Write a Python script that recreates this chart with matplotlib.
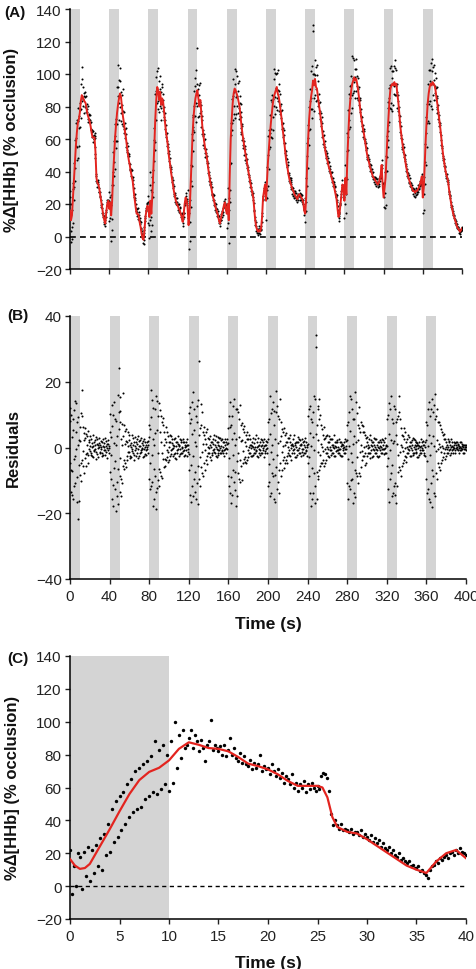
import numpy as np
import matplotlib
matplotlib.use("Agg")
import matplotlib.pyplot as plt

plt.rcParams['font.family'] = ['Liberation Sans', 'DejaVu Sans']

# ---- panel A/B: model fit sampled every second, 0..400 s ----
fit_a = [
    16, 10, 13, 24, 34, 45, 56, 64, 70, 72, 76, 83, 87, 86, 84, 83, 82, 78, 75, 73,
    71, 68, 64, 61, 61, 61, 52, 36, 33, 32, 29, 25, 21, 17, 13, 10, 8, 15, 20, 22,
    17, 21, 13, 22, 38, 50, 61, 69, 76, 81, 85, 88, 86, 80, 74, 70, 65, 61, 56, 51,
    47, 44, 40, 37, 34, 28, 23, 18, 14, 14, 13, 9, 6, 2, -1, -2, 4, 12, 16, 19,
    18, 12, 22, 14, 25, 40, 55, 72, 84, 92, 90, 84, 89, 81, 85, 83, 77, 70, 64, 60,
    55, 49, 45, 40, 36, 32, 28, 25, 22, 20, 19, 17, 16, 14, 12, 9, 14, 20, 24, 22,
    18, 7, 14, 30, 46, 62, 73, 80, 85, 88, 90, 85, 80, 84, 76, 68, 63, 58, 54, 51,
    47, 42, 38, 34, 31, 27, 24, 22, 19, 17, 15, 13, 10, 8, 11, 14, 16, 19, 21, 17,
    14, 20, 10, 38, 60, 72, 82, 88, 91, 90, 88, 86, 83, 80, 74, 68, 63, 59, 55, 51,
    48, 44, 40, 37, 33, 30, 27, 24, 17, 10, 6, 4, 3, 4, 3, 5, 12, 24, 28, 32,
    22, 34, 46, 55, 63, 70, 76, 82, 86, 88, 90, 92, 88, 86, 82, 77, 72, 66, 61, 56,
    50, 45, 42, 38, 35, 33, 31, 29, 28, 26, 25, 24, 23, 25, 26, 25, 24, 23, 21, 16,
    14, 24, 45, 60, 72, 80, 86, 90, 96, 93, 97, 92, 91, 86, 81, 77, 72, 67, 62, 59,
    55, 51, 48, 46, 43, 41, 39, 36, 34, 32, 29, 26, 23, 17, 12, 14, 20, 26, 32, 30,
    22, 36, 26, 48, 63, 76, 84, 90, 94, 96, 98, 96, 97, 94, 90, 85, 79, 74, 70, 66,
    63, 59, 55, 51, 48, 46, 43, 41, 39, 37, 36, 35, 34, 33, 32, 33, 35, 38, 44, 32,
    24, 30, 36, 50, 63, 74, 84, 91, 93, 94, 93, 95, 93, 94, 88, 83, 76, 68, 63, 58,
    54, 51, 47, 43, 40, 37, 35, 33, 31, 30, 28, 28, 27, 28, 28, 29, 30, 32, 34, 37,
    24, 30, 45, 60, 72, 82, 88, 92, 94, 93, 95, 94, 93, 90, 85, 81, 76, 71, 66, 60,
    54, 49, 45, 41, 38, 36, 33, 28, 24, 20, 17, 14, 12, 10, 8, 6, 5, 4, 3, 4,
    5,
]

# residuals, three samples per second (one row of 40 = one cycle)
resid_1 = [
    8.2, -13.5, 3.1, -15.8, 11.4, -2.7, 13.6, -9.1, 0.8, -16.2, 6.3, -4.8, 9.7, -1.2, 4.5, 2.9, -5.6, 0.7, -2.4, 1.8, -1.1, 2.6, 0.3, -2.9, 1.7, -0.6, 3.2, -1.9, 0.9, 0.2, -1.4, 2.1, -2.6, 0.5, 1.3, -0.9, 0.4, -3.1, 2.2, -0.3,
    4.7, -9.6, 12.8, -17.9, 1.4, -12.6, 8.2, -14.7, 15.9, 24.3, 11.2, -8.6, 2.7, -10.8, 16.6, -3.7, 4.9, -5.8, 1.6, -1.3, 3.7, -2.6, 1.4, -0.4, 2.9, -3.7, 0.5, 1.8, -1.6, 3.6, -2.7, 0.6, -0.9, 1.5, -2.8, 2.6, -1.9, 0.8, 0.1, -1.7,
    6.8, -12.7, 17.6, -10.4, 2.5, -15.8, 11.7, -13.6, 5.4, -9.8, 13.5, -7.6, 9.6, -1.7, 6.7, -5.8, 2.7, -3.9, 4.6, -1.4, 1.8, -2.7, 3.6, -0.6, 0.8, -1.9, 2.8, -3.6, 1.7, -0.4, 0.9, 2.7, -1.8, 0.1, 1.6, -2.6, 0.7, -0.8, 2.7, -1.5,
    10.6, -14.6, 8.7, -11.7, 16.8, -9.6, 1.7, -15.7, 12.6, -5.7, 26.2, -11.6, 6.8, -7.7, 4.8, 3.7, -6.7, 4.8, -2.7, 2.8, -1.7, 0.8, -3.7, 1.8, 2.7, -0.6, -1.8, 3.6, -2.8, 0.7, 1.7, -0.8, 2.8, -1.6, -0.7, 1.7, -2.7, 0.8, 1.8, -0.6,
    5.8, -11.6, 13.7, -16.8, 9.6, -6.7, 14.7, -12.8, 2.6, -14.7, 10.8, -9.7, 12.8, -5.7, 7.6, -4.8, 4.7, -2.8, 3.7, -3.8, 2.7, -1.8, 0.7, -2.6, 1.8, 0.2, -1.7, 2.7, -0.8, 1.7, -2.8, 0.8, 1.7, -1.6, 0.7, -0.8, 2.6, -1.7, 0.9, 1.8,
    7.7, -10.6, 15.7, -13.7, 11.6, -8.7, 6.8, -16.7, 10.7, -12.7, 9.7, -6.8, 14.7, -8.8, 5.7, -3.8, 5.8, -4.7, 1.7, -2.7, 2.8, -0.7, 1.8, -3.7, 0.8, 2.7, -1.7, 0.9, -2.8, 1.7, -0.8, 2.7, -1.8, 0.7, -0.6, 1.8, -1.7, 2.8, -0.7, 0.8,
    9.7, -8.6, 12.7, -17.7, 7.8, -13.7, 15.6, -11.7, 34.2, -15.8, 11.7, -8.7, 8.6, -5.7, 6.7, -4.6, 3.8, -5.7, 2.8, -1.8, 3.7, -2.7, 1.6, -0.7, 2.7, -1.8, 0.8, -2.6, 1.7, 1.6, -0.8, -1.7, 2.7, -0.6, 1.8, -2.7, 0.7, 1.8, -1.7, 0.6,
    6.7, -15.7, 10.8, -12.7, 14.7, -9.7, 8.7, -13.7, 16.8, -7.8, 10.6, -10.7, 5.8, -8.7, 7.7, -3.8, 4.8, -2.7, 3.8, -4.7, 1.8, -1.7, 2.7, -1.8, 0.7, -2.8, 1.7, 0.8, -1.7, 2.7, -0.8, 1.8, -2.7, 0.6, 1.7, -1.8, 0.8, -0.6, 2.8, -1.7,
    8.8, -12.7, 13.6, -9.7, 15.8, -14.7, 7.6, -11.8, 11.7, -16.8, 8.7, -7.6, 10.8, -6.7, 5.8, -5.7, 3.6, -3.8, 4.7, -2.8, 2.7, -1.8, 0.6, -2.7, 1.8, -0.7, 2.8, -1.7, 0.8, -0.6, 1.7, -2.8, 0.7, 1.8, -1.6, 2.7, -0.8, 0.7, -1.8, 1.6,
    7.8, -13.7, 11.7, -15.8, 9.7, -10.8, 14.7, -8.7, 12.8, -14.7, 9.6, -9.7, 7.7, -5.8, 6.7, -4.8, 4.7, -2.8, 2.7, -3.6, 1.8, -1.7, 2.6, -0.8, 0.7, -1.8, 1.7, -0.6, 0.8, -1.7, 0.7, 1.6, -0.8, 0.6, -0.7, 1.7, -0.6, 0.8, -1.6, 0.7,
    0.8,
]
resid_2 = [
    -4.6, 9.8, -7.2, 5.4, -11.6, 14.2, -0.5, 7.9, -21.8, 2.3, -8.4, 10.6, -3.9, 6.1, -7.7, -3.3, 4.2, -1.6, 5.1, -0.4, 3.5, -1.8, -2.7, 0.6, -1.2, 2.4, -3.6, 1.1, -0.2, 2.8, -1.7, 0.1, 1.6, -2.3, -0.7, 2.9, -1.5, 1.2, -0.8, 0.6,
    -7.4, 3.2, -15.7, 9.8, -6.1, 8.7, -19.4, 3.5, -6.6, 10.8, -13.6, 7.7, -9.7, 0.9, -5.7, 6.8, -4.6, 2.1, -3.8, 4.8, -1.5, 0.8, -2.9, 3.7, -1.8, 1.6, -0.7, -2.6, 2.7, -0.5, 1.9, -1.6, 2.8, -0.6, 0.9, -2.5, 1.7, -0.8, 1.6, 0.7,
    -9.6, 5.7, -11.8, 14.6, -17.7, 0.8, -8.7, 15.7, -12.4, 9.6, -6.6, 11.5, -8.8, 7.8, -3.6, 4.7, -5.6, 1.7, -2.8, 3.6, -3.7, 1.6, -0.8, 2.6, -2.7, 0.6, -1.6, 1.8, -0.7, 3.6, -2.6, -0.6, 1.6, -1.7, 2.6, -0.7, 0.2, 1.7, -2.6, 0.8,
    -6.7, 7.6, -16.7, 13.8, -2.6, 11.7, -13.6, 9.7, -10.8, 14.6, -9.7, 5.8, -5.8, 10.7, -8.6, -4.7, 2.7, -3.8, 5.7, -1.8, 2.6, -2.8, 1.7, -1.6, -0.8, 3.7, 0.7, -2.7, 1.6, -1.8, -0.7, 2.8, -1.7, 0.6, 2.7, -1.8, 1.6, -0.6, -1.7, 2.6,
    -8.7, 9.7, -13.7, 6.8, -14.6, 12.7, -10.6, 0.8, -17.8, 11.7, -7.7, 8.6, -3.7, 6.7, -9.8, 5.7, -3.6, 1.8, -4.7, 2.6, -0.8, 3.7, -1.8, 0.8, -2.7, 2.8, -0.6, -1.7, 3.8, -2.7, 0.6, -1.8, -0.7, 2.6, -1.6, 1.7, -2.8, 0.7, -0.6, -1.8,
    -11.7, 8.6, -14.7, 10.6, -7.8, 13.7, -15.6, 2.7, -5.8, 12.7, -10.6, 8.8, -4.7, 7.7, -6.8, 4.6, -2.8, 3.7, -3.7, 1.8, -1.7, 2.8, -2.7, 0.8, -1.8, -0.8, 3.7, -2.8, 1.6, -0.7, 1.8, -1.8, 0.7, -2.6, 2.7, -0.6, 0.8, -1.6, 1.7, -2.7,
    -4.8, 11.7, -13.8, 8.6, -15.7, 10.7, -7.7, 14.7, 30.6, 6.8, -9.7, 12.6, -6.7, 9.8, -4.7, 5.7, -3.8, 2.7, -4.8, 3.6, -1.8, 1.7, -2.8, 2.6, -0.7, 0.8, -1.6, 3.7, -2.7, 0.2, 1.7, -0.8, -1.8, 1.7, -2.6, 0.7, -0.8, -1.7, 2.7, -0.6,
    -10.7, 7.8, -11.7, 15.8, -9.8, 11.8, -16.8, 8.7, -6.7, 13.7, -8.7, 6.8, -7.7, 4.7, -5.8, 6.7, -2.6, 4.7, -1.7, 2.8, -2.7, 0.7, -1.8, 3.7, -0.7, 1.8, -2.7, -0.8, 2.7, -1.7, 0.7, -2.8, 1.7, -0.7, -1.8, 2.7, -0.6, 1.7, -1.8, 0.7,
    -5.7, 9.8, -16.7, 11.7, -7.8, 8.8, -13.7, 12.7, -10.7, 7.7, -11.8, 9.7, -5.8, 8.7, -8.7, 3.8, -4.7, 2.7, -2.6, 1.7, -1.8, 3.8, -0.8, 1.8, -2.6, 0.7, -1.7, 2.7, -0.6, 1.8, -1.7, 0.8, -2.8, 0.6, -0.7, -1.8, 1.7, -0.8, 0.7, -2.7,
    -9.7, 6.8, -12.7, 13.7, -16.7, 11.8, -6.7, 10.7, -13.8, 8.7, -7.8, 11.7, -4.8, 7.7, -6.8, 5.7, -3.7, 3.8, -1.8, 2.7, -2.7, 0.8, -1.7, 1.8, -0.6, 2.7, -0.8, -1.7, 1.6, -0.7, 1.8, -0.6, 0.7, -1.8, 1.7, -0.8, 0.6, -1.7, 0.8, -0.6,
    -0.7,
]
resid_3 = [
    12.1, -6.8, -14.3, 8.7, -3.5, -10.9, 4.6, -16.7, 9.3, -5.2, 1.9, -10.3, 17.4, -5.6, 2.2, 5.8, -2.1, 3.4, -4.7, 2.3, 0.4, -2.2, 1.5, 3.8, -0.9, 0.8, -1.3, 2.5, -2.8, 1.4, 0.7, -0.6, -1.8, 2.7, 0.2, -2.4, 1.9, -0.1, 1.1, -1.6,
    10.2, -2.4, 6.6, -11.3, 13.8, -4.2, 0.7, -10.5, -17.2, 5.6, -3.1, 15.4, -14.8, 7.3, 3.4, -6.5, 1.2, 5.7, -2.6, 0.4, 2.4, -3.3, 0.2, -1.1, 0.9, -2.2, 3.1, -0.3, 1.2, -3.2, 0.5, 2.3, -1.4, -0.2, 2.1, -0.4, 0.3, -2.2, -0.6, 1.9,
    3.2, -4.7, 9.4, -2.3, 11.9, -6.4, 4.3, -18.6, 14.2, -1.6, -11.7, 4.8, 1.6, -9.4, 8.9, 0.9, -3.4, 6.2, -0.8, -4.3, 0.3, 3.9, -2.1, 1.3, -0.2, 2.7, -3.1, 0.4, -1.8, 1.2, 0.6, -1.9, 2.4, -0.1, -1.2, 1.8, -2.3, 0.5, 0.9, -0.4,
    -2.1, 12.4, -5.3, 4.1, -14.9, 5.2, -7.4, 0.6, 7.8, -17.3, 3.9, -2.8, 13.1, -1.4, 1.2, 6.3, -0.9, 1.1, -4.9, 0.2, -0.3, 3.4, 0.1, -2.4, 1.1, -1.4, 2.2, 0.3, -0.5, 3.1, -2.2, 0.4, -0.2, 2.3, -1.1, 0.3, -0.9, 2.6, -0.3, 1.2,
    1.3, -3.2, 6.1, -9.1, 2.7, -2.4, 4.4, -7.6, 11.8, -4.1, -1.6, 3.3, -10.5, 1.9, 2.4, -1.2, 6.4, -4.4, 0.6, 4.7, -2.9, 0.3, 2.6, -0.1, 0.4, -2.3, 1.3, 0.1, -1.2, 0.2, 2.9, -0.4, -2.2, 0.5, 2.4, -0.3, 0.4, -1.1, 2.1, -0.2,
    2.6, -5.1, 4.2, -1.3, 0.9, -3.6, 11.2, -8.4, 17.1, -2.2, 1.3, -13.9, 2.1, 3.6, -1.4, 0.4, -6.1, 0.9, 4.3, -4.8, 0.3, -2.4, 3.9, -0.2, 1.2, 0.4, -0.6, 1.3, 0.3, -2.2, 3.1, -0.3, 2.2, 1.1, -1.3, -2.4, 1.9, 0.2, -1.2, 0.1,
    1.2, -2.9, 4.4, 0.6, -6.2, 3.3, -0.8, -16.9, 4.1, -7.6, 2.3, -1.4, 14.8, -2.2, 1.1, 0.3, -1.2, 6.3, -0.4, -3.9, 0.1, -0.4, 3.4, 0.2, -2.4, 2.6, 0.3, -0.2, 0.4, -1.1, 2.3, 0.2, -0.4, -2.3, 0.6, 1.2, -0.1, 0.3, -0.4, 1.9,
    2.3, -3.6, 0.4, 4.9, -1.8, -4.4, 1.2, 3.4, -15.1, 1.6, -2.9, 2.4, 12.2, -1.3, 0.8, -1.1, 6.4, 0.3, -5.2, 0.4, 3.3, -0.2, 0.1, -3.3, 2.2, 0.6, -0.4, 2.9, 0.2, -0.6, -2.6, 0.3, -0.3, 2.4, 0.2, -0.4, 2.3, -2.1, -0.2, 0.4,
    0.6, -3.3, 4.2, -0.9, 2.2, -5.4, 1.4, 2.1, -14.6, 3.7, 1.2, -2.3, 15.6, -1.4, 0.9, 0.3, -1.1, 5.9, -0.3, -4.4, 0.2, -0.4, 3.1, 0.4, -0.2, 2.3, -2.3, 0.3, 2.2, -1.4, 0.4, 1.3, -0.3, -2.4, 0.2, 0.4, -0.3, 2.1, -2.2, 0.3,
    2.2, -4.1, 0.6, 3.9, -2.4, 1.3, -18.1, 3.4, 0.5, 16.2, -1.2, 2.3, -0.4, 1.1, 0.3, -1.3, 0.4, -0.3, 4.1, -0.6, 0.2, -0.4, 0.3, 2.1, -2.2, 0.1, 0.4, 0.2, -0.3, 1.3, -0.2, 0.3, 1.1, -0.1, 0.2, -0.3, 1.1, 0.2, -0.4, 0.3,
    0.2,
]

# ---- panel C: first 40 s, fit and raw samples (every 0.2 s) ----
time_c_fit = [0, 0.5, 1, 1.5, 2, 3, 4, 5, 6, 7, 8, 9, 10, 11, 12, 13, 14, 15, 16, 17,
              18, 19, 20, 21, 22, 23, 24, 25, 25.5, 26, 26.5, 27, 28, 29, 30, 31, 32, 33,
              34, 35, 36, 37, 38, 39, 40]
fit_c = [16.5, 12.5, 10.5, 11, 13.5, 24, 34.5, 45.5, 56, 64.5, 69.5, 72, 76.5, 83.5,
         87.5, 86, 84, 83.5, 82, 78.5, 74.5, 73, 71, 68, 64, 61, 61, 61, 60, 54, 42, 36,
         33, 32, 28.5, 24.5, 20.5, 16.5, 12.5, 10, 8, 15, 20, 22, 17]
raw_c = [
    22, -5, 12, 0, 20, 18, -2, 21, 6, 24, 3, 22, 8, 25, 12, 29, 10, 32, 19, 38,
    21, 47, 27, 52, 30, 55, 34, 57, 38, 62, 42, 65, 45, 70, 47, 72, 48, 74, 53, 76,
    55, 79, 57, 88, 56, 83, 59, 86, 62, 80, 58, 88, 63, 100, 72, 92, 78, 95, 84, 86,
    90, 95, 84, 92, 88, 82, 89, 84, 76, 86, 88, 101, 83, 86, 84, 82, 85, 80, 86, 79,
    83, 90, 80, 84, 78, 76, 81, 75, 79, 74, 73, 77, 71, 75, 72, 74, 80, 70, 73, 71,
    72, 68, 74, 70, 67, 71, 66, 69, 63, 67, 65, 62, 68, 60, 63, 58, 62, 60, 64, 57,
    62, 59, 63, 60, 58, 61, 59, 67, 69, 68, 66, 58, 44, 37, 40, 37, 35, 38, 34, 35,
    34, 33, 35, 32, 33, 33, 31, 34, 30, 32, 30, 28, 31, 27, 29, 26, 28, 24, 26, 23,
    22, 24, 20, 22, 19, 18, 20, 16, 17, 15, 14, 15, 12, 13, 11, 11, 12, 9, 10, 8,
    7, 5, 10, 12, 13, 15, 14, 17, 16, 18, 19, 17, 20, 21, 19, 22, 20, 23, 21, 20,
    19,
]

band_starts = [0, 40, 80, 120, 160, 200, 240, 280, 320, 360]
band_len = 10

t_a = np.arange(len(fit_a))
fit_a = np.array(fit_a, dtype=float)
resid = [np.array(r, dtype=float) for r in (resid_1, resid_2, resid_3)]
t_all = np.concatenate([t_a] * 3)
res_all = np.concatenate(resid)
data_all = np.concatenate([fit_a + r for r in resid])
t_c = np.arange(len(raw_c)) * 0.2

grey = '#d4d4d4'
red = '#e3241f'
W, H = 477, 970
fig = plt.figure(figsize=(W / 100, H / 100), dpi=100)


def px_axes(x0, x1, ytop, ybot):
    return fig.add_axes([x0 / W, 1 - ybot / H, (x1 - x0) / W, (ybot - ytop) / H])


def style(ax):
    for s in ['top', 'right']:
        ax.spines[s].set_visible(False)
    for s in ['left', 'bottom']:
        ax.spines[s].set_linewidth(1.1)
    ax.tick_params(direction='out', length=3.5, width=1.0, labelsize=11,
                   colors='#222222', pad=2.5)


axA = px_axes(70, 462, 10, 270)
axB = px_axes(70, 466, 317, 580)
axC = px_axes(70, 466, 657, 920)

for ax in (axA, axB):
    for b in band_starts:
        ax.axvspan(b, b + band_len, color=grey, lw=0, zorder=0)

# (A)
axA.axhline(0, color='k', ls=(0, (3.5, 2.5)), lw=1.2, zorder=1)
axA.scatter(t_all, data_all, s=2.2, c='k', lw=0, zorder=2)
axA.plot(t_a, fit_a, color=red, lw=1.4, zorder=3)
axA.set_xlim(0, 400)
axA.set_ylim(-20, 140)
axA.set_xticks(range(0, 401, 40))
axA.set_xticklabels([])
axA.set_yticks(range(-20, 141, 20))
axA.set_yticklabels(['\u221220'] + [str(v) for v in range(0, 141, 20)])
style(axA)

# (B)
axB.scatter(t_all, res_all, s=2.2, c='k', lw=0, zorder=2)
axB.set_xlim(0, 400)
axB.set_ylim(-40, 40)
axB.set_xticks(range(0, 401, 40))
axB.set_yticks([-40, -20, 0, 20, 40])
axB.set_yticklabels(['\u221240', '\u221220', '0', '20', '40'])
style(axB)
axB.tick_params(axis='x', pad=4)

# (C)
axC.axvspan(0, 10, color=grey, lw=0, zorder=0)
axC.axhline(0, color='k', ls=(0, (3, 2.5)), lw=1.0, zorder=1)
axC.scatter(t_c, raw_c, s=6, c='k', lw=0, zorder=2)
axC.plot(time_c_fit, fit_c, color=red, lw=1.6, zorder=3)
axC.set_xlim(0, 40)
axC.set_ylim(-20, 140)
axC.set_xticks(range(0, 41, 5))
axC.set_yticks(range(-20, 141, 20))
axC.set_yticklabels(['\u221220'] + [str(v) for v in range(0, 141, 20)])
style(axC)
axC.tick_params(axis='x', pad=4)

bold = dict(fontweight='bold', color='#111111')
fig.text(12 / W, 1 - 140 / H, '%\u0394[HHb] (% occlusion)', rotation=90,
         ha='center', va='center', fontsize=12, **bold)
fig.text(13 / W, 1 - 448 / H, 'Residuals', rotation=90, ha='center',
         va='center', fontsize=12, **bold)
fig.text(13 / W, 1 - 788 / H, '%\u0394[HHb] (% occlusion)', rotation=90,
         ha='center', va='center', fontsize=12, **bold)
fig.text(268 / W, 1 - 624 / H, 'Time (s)', ha='center', va='center',
         fontsize=12.5, **bold)
fig.text(268 / W, 1 - 964 / H, 'Time (s)', ha='center', va='center',
         fontsize=12.5, **bold)
fig.text(4 / W, 1 - 13 / H, '(A)', ha='left', va='center', fontsize=11, **bold)
fig.text(7 / W, 1 - 316 / H, '(B)', ha='left', va='center', fontsize=11, **bold)
fig.text(7 / W, 1 - 659 / H, '(C)', ha='left', va='center', fontsize=11, **bold)

fig.savefig('out.png', dpi=100)
